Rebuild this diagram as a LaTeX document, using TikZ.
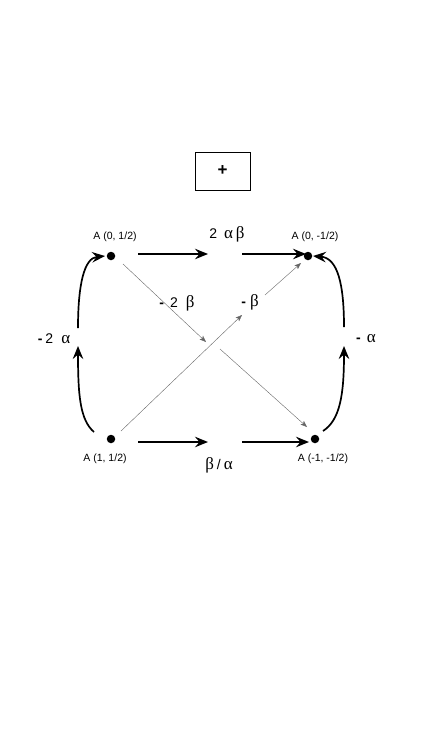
\documentclass[tikz,border=0pt]{standalone}
\usepackage{fontspec}
\setmainfont{Liberation Sans}
\newfontfamily\grk{Liberation Serif}
\usetikzlibrary{arrows.meta}
\newcommand{\gk}[1]{{\grk\fontsize{17}{19}\selectfont #1}}
\newcommand{\hy}{\textbf{-}}
\begin{document}
\begin{tikzpicture}[x=1pt,y=-1pt,
  dot/.style={circle,fill=black,inner sep=0pt,minimum size=8.5pt},
  big/.style={line width=1.7pt,-{Stealth[length=13pt,width=10.5pt,inset=4.5pt]}},
  thin/.style={line width=0.4pt,draw=black!60,-{Stealth[length=6.5pt,width=5pt,inset=1.5pt]}},
  small/.style={font=\fontsize{10.5}{12}\selectfont},
  lab/.style={font=\fontsize{14}{16}\selectfont}]
\useasboundingbox (0,0) rectangle (433,744);
% box
\node[draw,line width=0.8pt,minimum width=55pt,minimum height=38pt,inner sep=0pt,font=\fontsize{17}{19}\selectfont\bfseries] (plus) at (222.5,171) {+};
% dots
\node[dot] (tl) at (111,256) {};
\node[dot] (tr) at (308,256) {};
\node[dot] (bl) at (111,439) {};
\node[dot] (br) at (315,439) {};
% dot labels
\node[small] (ltl) at (115,237) {A (0, 1/2)};
\node[small] (ltr) at (315,237) {A (0, -1/2)};
\node[small] (lbl) at (105,459) {A (1, 1/2)};
\node[small] (lbr) at (323,459) {A (-1, -1/2)};
% edge labels
\node[lab] (top) at (227,234) {2\hspace{7pt}\gk{α\,β}};
\node[lab] (bot) at (219,465) {\gk{β}\hspace{3pt}/\hspace{3pt}\gk{α}};
\node[lab] (left) at (54,339) {\hy\hspace{3pt}2\hspace{8pt}\gk{α}};
\node[lab] (right) at (366,339) {\hy\hspace{6pt}\gk{α}};
\node[lab] (d1l) at (177,303) {\hy\hspace{6pt}2\hspace{8pt}\gk{β}};
\node[lab] (d2l) at (250,302) {\hy\hspace{4pt}\gk{β}};
% coordinates
\coordinate (t1s) at (138,254);
\coordinate (t1e) at (208,254);
\coordinate (t2s) at (242,254);
\coordinate (t2e) at (306,254);
\coordinate (b1s) at (138,442);
\coordinate (b1e) at (208,442);
\coordinate (b2s) at (242,442);
\coordinate (b2e) at (309,442);
\coordinate (l1s) at (94,432);
\coordinate (l1e) at (78,346);
\coordinate (l2s) at (78,328);
\coordinate (l2e) at (105,256);
\coordinate (r1s) at (323,431);
\coordinate (r1e) at (344,346);
\coordinate (r2s) at (344,327);
\coordinate (r2e) at (313,256);
\coordinate (d1a) at (123,264);
\coordinate (d1b) at (206,342);
\coordinate (d1c) at (220,349);
\coordinate (d1d) at (307,427);
\coordinate (d2a) at (121,431);
\coordinate (d2b) at (242,315);
\coordinate (d2c) at (265,295);
\coordinate (d2d) at (301,263);
% horizontal arrows
\draw[big] (t1s) -- (t1e);
\draw[big] (t2s) -- (t2e);
\draw[big] (b1s) -- (b1e);
\draw[big] (b2s) -- (b2e);
% side curves
\draw[big] (l1s) .. controls (80,420) and (78,395) .. (l1e);
\draw[big] (l2s) .. controls (78,285) and (84,258) .. (l2e);
\draw[big] (r1s) .. controls (340,420) and (344,395) .. (r1e);
\draw[big] (r2s) .. controls (344,285) and (338,258) .. (r2e);
% diagonals
\draw[thin] (d1a) -- (d1b);
\draw[thin] (d1c) -- (d1d);
\draw[thin] (d2a) -- (d2b);
\draw[thin] (d2c) -- (d2d);
\end{tikzpicture}
\end{document}
